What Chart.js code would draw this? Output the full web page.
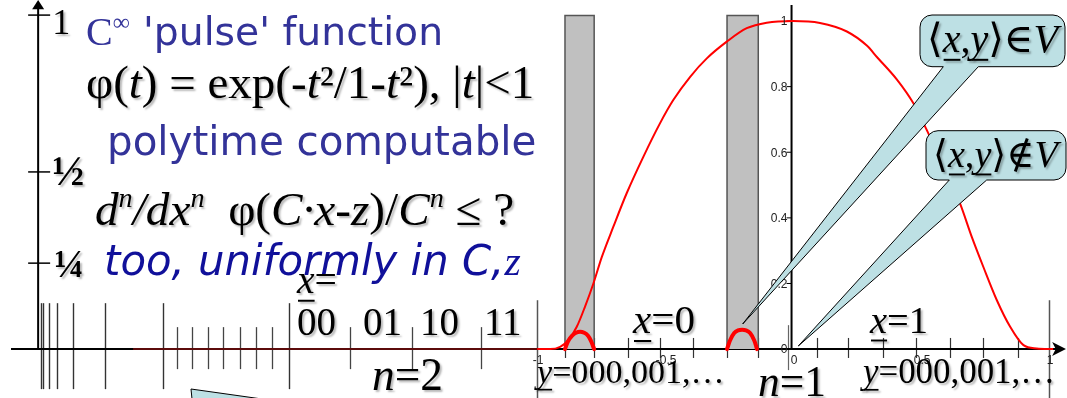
<!DOCTYPE html>
<html>
<head>
<meta charset="utf-8">
<script src="https://cdn.jsdelivr.net/npm/chart.js@4.4.1/dist/chart.umd.min.js"></script>
<style>
  html, body { margin: 0; padding: 0; background: #fff; }
  #wrap { width: 1067px; height: 398px; }
</style>
</head>
<body>
<div id="wrap"><canvas id="c" width="1067" height="398"></canvas></div>
<script>
// pulse curve phi(t)
const curveX = [-1.000, -0.949, -0.910, -0.878, -0.845, -0.813, -0.780, -0.747, -0.702, -0.650, -0.585, -0.520, -0.468, -0.402, -0.337, -0.259, -0.181, -0.103, 0.000,
                0.105, 0.210, 0.288, 0.330, 0.405, 0.470, 0.522, 0.586, 0.652, 0.698, 0.743, 0.796, 0.848, 0.900, 0.952, 1.016];
const curveY = [0, 0, 0.007, 0.027, 0.068, 0.129, 0.200, 0.281, 0.373, 0.475, 0.586, 0.688, 0.759, 0.830, 0.886, 0.937, 0.978, 0.995, 1.000,
                0.994, 0.968, 0.925, 0.888, 0.822, 0.749, 0.668, 0.558, 0.444, 0.342, 0.251, 0.149, 0.068, 0.012, 0.002, 0];

// the flat part on the axis, left of -1
const flatX = [-2.578, -1.0];
const flatY = [0, 0];

// small pulses inside the grey bars
const bump1X = [-0.891, -0.879, -0.863, -0.848, -0.832, -0.816, -0.801, -0.789, -0.777];
const bump1Y = [0, 0.024, 0.041, 0.050, 0.053, 0.050, 0.041, 0.024, 0];
const bump2X = [-0.258, -0.246, -0.230, -0.215, -0.199, -0.184, -0.168, -0.152, -0.141];
const bump2Y = [0, 0.027, 0.049, 0.057, 0.059, 0.057, 0.049, 0.027, 0];

// grey bars
const barStart = [-0.891, -0.258];
const barEnd = [-0.777, -0.136];
const barTop = [1.017, 1.017];

// ticks on the long axis
const tallTicks = [-2.939, -2.929, -2.907, -2.876, -2.814, -2.686, -2.460, -1.969];
const n3Ticks = [-2.407, -2.349, -2.286, -2.225, -2.162, -2.099, -2.034];
const n2Ticks = [-1.730, -1.489, -1.220];
const unitTicks = [-1, 1.0];
const eighthTicks = [-0.891, -0.777, -0.645, -0.520, -0.391, -0.258, -0.137, 0.094, 0.215, 0.352, 0.480, 0.613, 0.742, 0.879];

// inner axes labels
const innerYTicks = [0, 0.2, 0.4, 0.6, 0.8, 1];
const innerYLabels = ['0', '0.2', '0.4', '0.6', '0.8', '1'];
const innerXTicks = [-1, -0.5, 0, 0.5, 1];
const innerXLabels = ['-1', '-0.5', '0', '0.5', '1'];

// left axis
const leftTickPos = [1.018, 0.540, 0.262];
const leftTickLabels = ['1', '\u00BD', '\u00BC'];

const SERIF = '"Liberation Serif", "DejaVu Serif", serif';
const SANS = '"DejaVu Sans", Verdana, sans-serif';
const SMALL = '"Liberation Sans", Arial, sans-serif';

const pts = (xs, ys) => xs.map((x, i) => ({ x: x, y: ys[i] }));

function barPoly(i) {
    return [
        { x: barStart[i], y: 0 }, { x: barStart[i], y: barTop[i] },
        { x: barEnd[i], y: barTop[i] }, { x: barEnd[i], y: 0 }
    ];
}

// draw a row of text pieces (italic, superscript, underline), scaled to a width
function drawRuns(ctx, parts, x, y, o) {
    const fam = o.family || SERIF;
    const font = (p, s) => (p.i ? 'italic ' : '') + (p.b ? 'bold ' : '') +
        (p.sup ? s * 0.6 : s).toFixed(1) + 'px ' + (p.fam || fam);
    let size = o.size;
    if (o.width) {
        let w = 0;
        parts.forEach(p => { ctx.font = font(p, size); w += ctx.measureText(p.t).width; });
        size = size * o.width / w;
    }
    ctx.save();
    ctx.fillStyle = o.color || '#000';
    ctx.textBaseline = 'alphabetic';
    ctx.textAlign = 'left';
    if (o.shadow) {
        ctx.shadowColor = 'rgba(0,0,0,0.28)';
        ctx.shadowOffsetX = 2;
        ctx.shadowOffsetY = 2;
        ctx.shadowBlur = 2;
    }
    let cx = x;
    parts.forEach(p => {
        ctx.font = font(p, size);
        const w = ctx.measureText(p.t).width;
        ctx.fillText(p.t, cx, y + (p.sup ? -size * 0.38 : 0));
        if (p.u) ctx.fillRect(cx + 1, y + size * 0.17, w - 1, Math.max(1.5, size * 0.05));
        cx += w;
    });
    ctx.restore();
}

function callout(ctx, b) {
    const r = 12;
    ctx.beginPath();
    ctx.moveTo(b.x0 + r, b.y0);
    ctx.lineTo(b.x1 - r, b.y0);
    ctx.arcTo(b.x1, b.y0, b.x1, b.y0 + r, r);
    ctx.lineTo(b.x1, b.y1 - r);
    ctx.arcTo(b.x1, b.y1, b.x1 - r, b.y1, r);
    ctx.lineTo(b.tr, b.y1);
    ctx.lineTo(b.tx, b.ty);
    ctx.lineTo(b.tl, b.y1);
    ctx.lineTo(b.x0 + r, b.y1);
    ctx.arcTo(b.x0, b.y1, b.x0, b.y1 - r, r);
    ctx.lineTo(b.x0, b.y0 + r);
    ctx.arcTo(b.x0, b.y0, b.x0 + r, b.y0, r);
    ctx.closePath();
    ctx.fillStyle = '#bde0e4';
    ctx.fill();
    ctx.strokeStyle = '#000';
    ctx.lineWidth = 1;
    ctx.stroke();
}

const deco = {
    id: 'deco',
    beforeDatasetsDraw(chart) {
        const ctx = chart.ctx;
        const X = v => chart.scales.x.getPixelForValue(v);
        const Y = v => chart.scales.y.getPixelForValue(v);
        ctx.save();

        // tick marks
        const tick = (list, top, bot, col, lw) => {
            ctx.strokeStyle = col;
            ctx.lineWidth = lw;
            list.forEach(u => {
                ctx.beginPath();
                ctx.moveTo(Math.round(X(u)) + 0.5, Y(top));
                ctx.lineTo(Math.round(X(u)) + 0.5, Y(bot));
                ctx.stroke();
            });
        };
        tick(tallTicks, 0.140, -0.122, '#333', 1.4);
        tick(n3Ticks, 0.067, -0.061, '#444', 1.3);
        tick(n2Ticks, 0.067, -0.061, '#444', 1.3);
        tick(unitTicks, 0.149, -0.149, '#555', 1.5);
        tick(eighthTicks, 0.034, -0.027, '#333', 1.2);
        tick([-0.0195], 0.073, -0.064, '#666', 1.2);

        // main horizontal axis with arrow
        const y0 = Y(0);
        ctx.strokeStyle = '#000';
        ctx.lineWidth = 2;
        ctx.beginPath();
        ctx.moveTo(X(-3.055), y0);
        ctx.lineTo(X(1.045), y0);
        ctx.stroke();
        ctx.fillStyle = '#000';
        ctx.beginPath();
        ctx.moveTo(X(1.066), y0);
        ctx.lineTo(X(1.012), y0 - 7);
        ctx.lineTo(X(1.026), y0);
        ctx.lineTo(X(1.012), y0 + 7);
        ctx.closePath();
        ctx.fill();

        // left vertical axis with arrow
        const xl = X(-2.949);
        ctx.beginPath();
        ctx.moveTo(xl, y0);
        ctx.lineTo(xl, Y(1.04));
        ctx.stroke();
        ctx.beginPath();
        ctx.moveTo(xl, Y(1.064));
        ctx.lineTo(xl - 6, Y(1.036));
        ctx.lineTo(xl + 6, Y(1.036));
        ctx.closePath();
        ctx.fill();
        ctx.lineWidth = 1.5;
        leftTickPos.forEach(v => {
            ctx.beginPath();
            ctx.moveTo(xl - 10, Y(v));
            ctx.lineTo(xl + 12, Y(v));
            ctx.stroke();
        });

        // inner vertical axis
        const xi = X(-0.006);
        ctx.lineWidth = 2;
        ctx.beginPath();
        ctx.moveTo(xi, Y(-0.003));
        ctx.lineTo(xi, Y(1.049));
        ctx.stroke();
        ctx.lineWidth = 1;
        innerYTicks.forEach(v => {
            ctx.beginPath();
            ctx.moveTo(xi - 5, Y(v));
            ctx.lineTo(xi, Y(v));
            ctx.stroke();
        });
        ctx.restore();
    },
    afterDatasetsDraw(chart) {
        const ctx = chart.ctx;
        const X = v => chart.scales.x.getPixelForValue(v);
        const Y = v => chart.scales.y.getPixelForValue(v);
        const xi = X(-0.006);

        // small tick labels of the inner plot
        ctx.save();
        ctx.font = '12px ' + SMALL;
        ctx.fillStyle = '#222';
        ctx.textAlign = 'right';
        ctx.textBaseline = 'middle';
        innerYTicks.forEach((v, i) => ctx.fillText(innerYLabels[i], xi - 4, Y(v) + 1));
        ctx.textAlign = 'center';
        ctx.textBaseline = 'top';
        innerXTicks.forEach((v, i) => ctx.fillText(innerXLabels[i], X(v) + 1, Y(0) + 6));
        ctx.restore();

        // speech bubbles
        callout(ctx, { x0: 920, x1: 1065, y0: 15, y1: 66.7, tl: 943.3, tr: 978.3, tx: 742.7, ty: 324 });
        callout(ctx, { x0: 926, x1: 1066, y0: 130.7, y1: 180, tl: 949.3, tr: 986.7, tx: 798.3, ty: 346 });
        ctx.save();
        ctx.beginPath();
        ctx.moveTo(191, 389);
        ctx.lineTo(262, 399);
        ctx.lineTo(192, 399);
        ctx.closePath();
        ctx.fillStyle = '#bde0e4';
        ctx.fill();
        ctx.beginPath();
        ctx.moveTo(192, 399);
        ctx.lineTo(191, 389);
        ctx.lineTo(262, 399);
        ctx.strokeStyle = '#000';
        ctx.lineWidth = 1;
        ctx.stroke();
        ctx.restore();

        // left axis labels
        const xl = X(-2.949);
        drawRuns(ctx, [{ t: leftTickLabels[0] }], xl + 14, 34, { size: 36, shadow: true });
        drawRuns(ctx, [{ t: leftTickLabels[1], b: true }], xl + 14, 185, { size: 26, width: 32, shadow: true });
        drawRuns(ctx, [{ t: leftTickLabels[2], b: true }], xl + 16, 277, { size: 26, width: 30, shadow: true });

        // slide text
        const blue = '#333399';
        drawRuns(ctx, [{ t: 'C' }, { t: '\u221E', sup: true }], 86, 45, { size: 40, color: blue });
        drawRuns(ctx, [{ t: "'pulse' function" }], 143, 45, { size: 39, width: 300, family: SANS, color: blue });
        drawRuns(ctx, [
            { t: '\u03C6(' }, { t: 't', i: true }, { t: ') = exp(-' }, { t: 't', i: true },
            { t: '\u00B2/1-' }, { t: 't', i: true }, { t: '\u00B2), |' }, { t: 't', i: true }, { t: '|<1' }
        ], 86, 98, { size: 38, width: 448, shadow: true });
        drawRuns(ctx, [{ t: 'polytime computable' }], 107, 155, { size: 40, width: 429, family: SANS, color: blue });
        drawRuns(ctx, [
            { t: 'd', i: true }, { t: 'n', i: true, sup: true }, { t: '/', i: true }, { t: 'dx', i: true },
            { t: 'n', i: true, sup: true }, { t: '  \u03C6(' }, { t: 'C\u00B7x-z', i: true }, { t: ')/' },
            { t: 'C', i: true }, { t: 'n', i: true, sup: true }, { t: ' \u2264 ?' }
        ], 95, 225, { size: 40, width: 419, shadow: true });
        drawRuns(ctx, [
            { t: 'too, uniformly in C,', i: true, fam: SANS }, { t: 'z', i: true }
        ], 104, 275, { size: 38, width: 417, color: '#10109a' });

        // n = 2 block
        drawRuns(ctx, [{ t: 'x', i: true, u: true }, { t: '=' }], 297, 293, { size: 30, width: 40, shadow: true });
        drawRuns(ctx, [{ t: '00' }], 297, 335, { size: 39, shadow: true });
        drawRuns(ctx, [{ t: '01' }], 363, 335, { size: 39, shadow: true });
        drawRuns(ctx, [{ t: '10' }], 420, 335, { size: 39, shadow: true });
        drawRuns(ctx, [{ t: '11' }], 484, 335, { size: 39, shadow: true });
        drawRuns(ctx, [{ t: 'n', i: true }, { t: '=2' }], 372, 390, { size: 38, width: 71, shadow: true });

        // n = 1 block
        drawRuns(ctx, [{ t: 'x', i: true, u: true }, { t: '=0' }], 633, 333, { size: 38, width: 62, shadow: true });
        drawRuns(ctx, [{ t: 'y', i: true, u: true }, { t: '=000,001,\u2026' }], 537, 383, { size: 36, width: 188, shadow: true });
        drawRuns(ctx, [{ t: 'n', i: true }, { t: '=1' }], 758, 396, { size: 38, width: 68, shadow: true });
        drawRuns(ctx, [{ t: 'x', i: true, u: true }, { t: '=1' }], 870, 333, { size: 38, width: 58, shadow: true });
        drawRuns(ctx, [{ t: 'y', i: true, u: true }, { t: '=000,001,\u2026' }], 863, 383, { size: 36, width: 192, shadow: true });

        // bubble text
        drawRuns(ctx, [
            { t: '\u27E8' }, { t: 'x', i: true, u: true }, { t: ',' }, { t: 'y', i: true, u: true },
            { t: '\u27E9\u2208' }, { t: 'V', i: true }
        ], 927, 52, { size: 38, width: 131, shadow: true });
        drawRuns(ctx, [
            { t: '\u27E8' }, { t: 'x', i: true, u: true }, { t: ',' }, { t: 'y', i: true, u: true },
            { t: '\u27E9\u2209' }, { t: 'V', i: true }
        ], 933, 167, { size: 38, width: 125, shadow: true });
    }
};

new Chart(document.getElementById('c'), {
    type: 'scatter',
    data: {
        datasets: [
            {
                data: pts(bump1X, bump1Y), showLine: true, borderColor: '#ff0000', borderWidth: 4,
                pointRadius: 0, tension: 0.4, borderCapStyle: 'round'
            },
            {
                data: pts(bump2X, bump2Y), showLine: true, borderColor: '#ff0000', borderWidth: 4,
                pointRadius: 0, tension: 0.4, borderCapStyle: 'round'
            },
            {
                data: pts(curveX, curveY), showLine: true, borderColor: '#ff0000', borderWidth: 2,
                pointRadius: 0, cubicInterpolationMode: 'monotone'
            },
            {
                data: pts(flatX, flatY), showLine: true, borderColor: '#5c0b0b', borderWidth: 2, pointRadius: 0
            },
            {
                data: barPoly(0), showLine: true, borderColor: '#555', borderWidth: 1.5, pointRadius: 0,
                fill: 'origin', backgroundColor: '#c0c0c0', tension: 0
            },
            {
                data: barPoly(1), showLine: true, borderColor: '#555', borderWidth: 1.5, pointRadius: 0,
                fill: 'origin', backgroundColor: '#c0c0c0', tension: 0
            }
        ]
    },
    options: {
        responsive: false,
        animation: false,
        devicePixelRatio: 1,
        layout: { padding: 0 },
        plugins: { legend: { display: false }, tooltip: { enabled: false } },
        scales: {
            x: { type: 'linear', min: -3.098, max: 1.070, display: false },
            y: { type: 'linear', min: -0.149, max: 1.064, display: false }
        }
    },
    plugins: [deco]
});
</script>
</body>
</html>
